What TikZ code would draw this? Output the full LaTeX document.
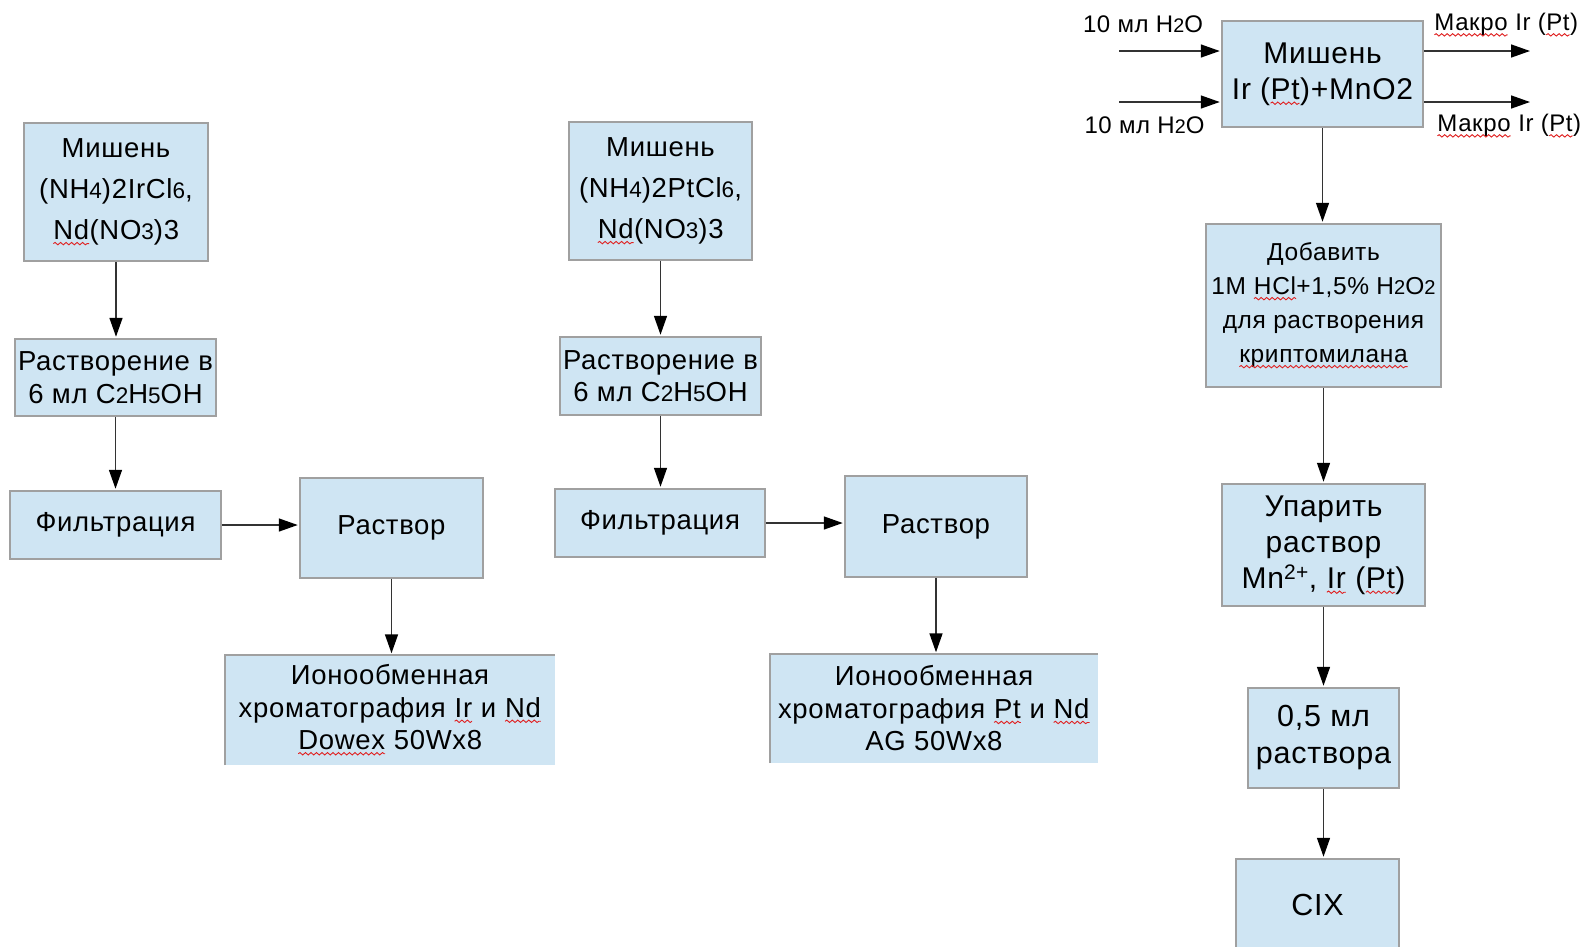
\documentclass[tikz,border=0pt]{standalone}
\usepackage{fontspec}
\setmainfont[LetterSpace=2.5]{Liberation Sans}
\usetikzlibrary{arrows.meta,decorations.pathmorphing}
\definecolor{boxfill}{HTML}{CFE5F3}
\definecolor{boxline}{HTML}{A0A0A0}
\definecolor{spellred}{HTML}{E02020}
\definecolor{conn}{HTML}{333333}
\newcommand\sm[1]{\scalebox{0.82}{#1}}
\newcommand\spell[2]{\tikz[baseline=(#1.base)]{\node[inner sep=0pt,outer sep=0pt,minimum width=0pt,minimum height=0pt,draw=none,fill=none,align=left,anchor=center] (#1) {#2};\draw[spellred,line width=0.9pt,decorate,decoration={snake,amplitude=1.2pt,segment length=5.5pt}] ([yshift=-4pt]#1.base west) -- ([yshift=-4pt]#1.base east);}}
\tikzset{
  box/.style={fill=boxfill,draw=boxline,line width=1.5pt,align=center,inner sep=0pt},
  boxnoline/.style={fill=boxfill,align=center,inner sep=0pt},
  arr/.style={draw=conn,-{Triangle[length=19pt,width=13pt,fill=black,color=black]},line width=1.5pt,shorten >=1.5pt},
  fa/.style={font=\fontsize{27.5}{41}\selectfont},
  fb/.style={font=\fontsize{27.5}{32.5}\selectfont},
  fc/.style={font=\fontsize{30}{36}\selectfont},
  fe/.style={font=\fontsize{30.5}{37}\selectfont},
  fd/.style={font=\fontsize{24.5}{34}\selectfont},
  fl/.style={font=\fontsize{24}{28}\selectfont,inner sep=0pt},
}
\begin{document}
\begin{tikzpicture}[x=1pt,y=-1pt]
\clip (0,0) rectangle (1584,946);
\fill[white] (0,0) rectangle (1584,946);
% left column
\node[box,fa,minimum width=184pt,minimum height=138pt] (b1) at (116,192) {Мишень\\(NH\sm{4})2IrCl\sm{6},\\\spell{s1}{Nd}(NO\sm{3})3};
\node[box,fb,minimum width=201pt,minimum height=77pt] (b2) at (115.5,377.5) {Растворение в\\6 мл C\sm{2}H\sm{5}OH};
\node[box,fb,minimum width=211pt,minimum height=68pt] (b3) at (115.5,525) {Фильтрация};
\node[box,fb,minimum width=183pt,minimum height=100pt] (b4) at (391.5,528) {Раствор};
\node[boxnoline,fb,minimum width=330pt,minimum height=110pt] (b5) at (390,710) {Ионообменная\\хроматография \spell{s2}{Ir} и \spell{s3}{Nd}\\\spell{s4}{Dowex} 50Wx8};
\draw[boxline,line width=1.5pt] (b5.south west) -- (b5.north west) -- (b5.north east);
% middle column
\node[box,fa,minimum width=183pt,minimum height=138pt] (b6) at (660.5,191) {Мишень\\(NH\sm{4})2PtCl\sm{6},\\\spell{s5}{Nd}(NO\sm{3})3};
\node[box,fb,minimum width=201pt,minimum height=78pt] (b7) at (660.5,376) {Растворение в\\6 мл C\sm{2}H\sm{5}OH};
\node[box,fb,minimum width=210pt,minimum height=68pt] (b8) at (660,523) {Фильтрация};
\node[box,fb,minimum width=182pt,minimum height=101pt] (b9) at (936,526.5) {Раствор};
\node[boxnoline,fb,minimum width=328pt,minimum height=109pt] (b10) at (934,708.5) {Ионообменная\\хроматография \spell{s6}{Pt} и \spell{s7}{Nd}\\AG 50Wx8};
\draw[boxline,line width=1.5pt] (b10.south west) -- (b10.north west) -- (b10.north east);
% right column
\node[box,fc,minimum width=201pt,minimum height=106pt] (b11) at (1322.5,74) {Мишень\\Ir (\spell{s8}{Pt})+MnO2};
\node[box,fd,minimum width=235pt,minimum height=163pt] (b12) at (1323.5,305.5) {Добавить\\1M \spell{s9}{HCl}+1,5\% H\sm{2}O\sm{2}\\для растворения\\\spell{s10}{криптомилана}};
\node[box,fc,minimum width=203pt,minimum height=122pt] (b13) at (1323.5,545) {Упарить\\раствор\\Mn\textsuperscript{2+}, \spell{s11}{Ir} (\spell{s12}{Pt})};
\node[box,fe,minimum width=151pt,minimum height=100pt] (b14) at (1323.5,738) {0,5 мл\\раствора};
\node[box,fe,minimum width=163pt,minimum height=91pt] (b15) at (1317.5,904.5) {CIX};
% side inputs/outputs
\coordinate (i1) at (1119,51);
\coordinate (i2) at (1119,102);
\coordinate (o1) at (1530,51);
\coordinate (o2) at (1530,102);
\node[fl] (l1) at (1143,24.5) {10 мл H\sm{2}O};
\node[fl] (l2) at (1144.5,125) {10 мл H\sm{2}O};
\node[fl] (l3) at (1506,25) {\spell{s13}{Макро} Ir (\spell{s14}{Pt})};
\node[fl] (l4) at (1509,126) {\spell{s15}{Макро} Ir (\spell{s16}{Pt})};
% connectors
\draw[arr] (b1.south) -- (b1.south |- b2.north);
\draw[arr] (b2.south) -- (b2.south |- b3.north);
\draw[arr] (b3.east) -- (b3.east -| b4.west);
\draw[arr] (b4.south) -- (b4.south |- b5.north);
\draw[arr] (b6.south) -- (b6.south |- b7.north);
\draw[arr] (b7.south) -- (b7.south |- b8.north);
\draw[arr] (b8.east) -- (b8.east -| b9.west);
\draw[arr] (b9.south) -- (b9.south |- b10.north);
\draw[arr] (i1) -- (i1 -| b11.west);
\draw[arr] (i2) -- (i2 -| b11.west);
\draw[arr,shorten >=0pt] (b11.east |- o1) -- (o1);
\draw[arr,shorten >=0pt] (b11.east |- o2) -- (o2);
\draw[arr] (b11.south) -- (b11.south |- b12.north);
\draw[arr] (b12.south) -- (b12.south |- b13.north);
\draw[arr] (b13.south) -- (b13.south |- b14.north);
\draw[arr] (b14.south) -- (b14.south |- b15.north);
\end{tikzpicture}
\end{document}
